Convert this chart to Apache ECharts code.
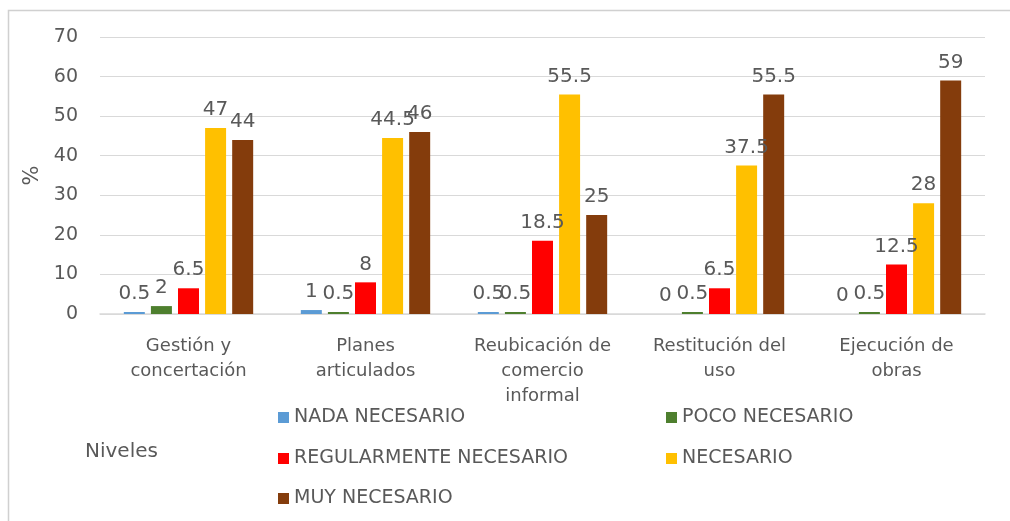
<!DOCTYPE html>
<html>
<head>
<meta charset="utf-8">
<script src="https://cdn.jsdelivr.net/npm/echarts@6/dist/echarts.min.js"></script>
<style>
  html, body { margin: 0; padding: 0; background: #fff; }
  #chart { width: 1010px; height: 521px; }
</style>
</head>
<body>
<div id="chart"></div>
<script>
// categorías del eje x
const categories = ['Gestión y\nconcertación', 'Planes\narticulados', 'Reubicación de\ncomercio\ninformal', 'Restitución del\nuso', 'Ejecución de\nobras']
const seriesNames = ['NADA NECESARIO', 'POCO NECESARIO', 'REGULARMENTE NECESARIO', 'NECESARIO', 'MUY NECESARIO']
// valores (%) por nivel
const nadaNecesario = [0.5, 1, 0.5, 0, 0]
const pocoNecesario = [2, 0.5, 0.5, 0.5, 0.5]
const regularmenteNecesario = [6.5, 8, 18.5, 6.5, 12.5]
const necesario = [47, 44.5, 55.5, 37.5, 28]
const muyNecesario = [44, 46, 25, 55.5, 59]
const yTicks = [0, 10, 20, 30, 40, 50, 60, 70]

const colorList = ['#5B9BD5', '#4E7F2E', '#FF0000', '#FFC000', '#843C0C']
const dataList = [nadaNecesario, pocoNecesario, regularmenteNecesario, necesario, muyNecesario]
const font = 'DejaVu Sans'
const grey = '#595959'

let series = seriesNames.map((name, index) => {
    return {
        name: name,
        type: 'bar',
        data: dataList[index],
        barWidth: 21,
        barGap: '29%',
        itemStyle: { color: colorList[index] },
        label: {
            show: true,
            position: 'top',
            distance: 8,
            color: grey,
            fontFamily: font,
            fontSize: 20
        }
    }
})

// leyenda: dos columnas
const legendPos = [
    { left: 273, top: 403 },
    { left: 661, top: 403 },
    { left: 273, top: 444 },
    { left: 661, top: 444 },
    { left: 273, top: 484 }
]
let legends = seriesNames.map((name, index) => {
    return {
        data: [name],
        left: legendPos[index].left,
        top: legendPos[index].top,
        icon: 'rect',
        itemWidth: 11,
        itemHeight: 11,
        itemGap: 6,
        selectedMode: false,
        textStyle: { color: grey, fontFamily: font, fontSize: 19 }
    }
})

let chart = echarts.init(document.getElementById('chart'))
let option = {
    animation: false,
    backgroundColor: '#fff',
    title: {
        text: 'Niveles',
        left: 80,
        top: 437,
        textStyle: { color: grey, fontFamily: font, fontSize: 20, fontWeight: 'normal' }
    },
    legend: legends,
    grid: { left: 100, right: 25, top: 37, bottom: 207, containLabel: false },
    xAxis: {
        type: 'category',
        data: categories,
        axisLine: { lineStyle: { color: '#d9d9d9', width: 1.5 } },
        axisTick: { show: false },
        axisLabel: {
            interval: 0,
            margin: 20,
            lineHeight: 25,
            color: grey,
            fontFamily: font,
            fontSize: 18
        }
    },
    yAxis: {
        type: 'value',
        min: yTicks[0],
        max: yTicks[yTicks.length - 1],
        interval: 10,
        name: '%',
        nameLocation: 'middle',
        nameGap: 48,
        nameTextStyle: { color: grey, fontFamily: font, fontSize: 21 },
        axisLine: { show: false },
        axisTick: { show: false },
        axisLabel: { color: grey, fontFamily: font, fontSize: 19, margin: 22 },
        splitLine: { lineStyle: { color: '#d9d9d9', width: 1.2 } }
    },
    graphic: [{
        type: 'rect',
        shape: { x: 8.5, y: 10.5, width: 1100, height: 600 },
        style: { fill: 'none', stroke: '#d0d0d0', lineWidth: 1.5 },
        silent: true
    }],
    series: series
}
chart.setOption(option)
</script>
</body>
</html>
